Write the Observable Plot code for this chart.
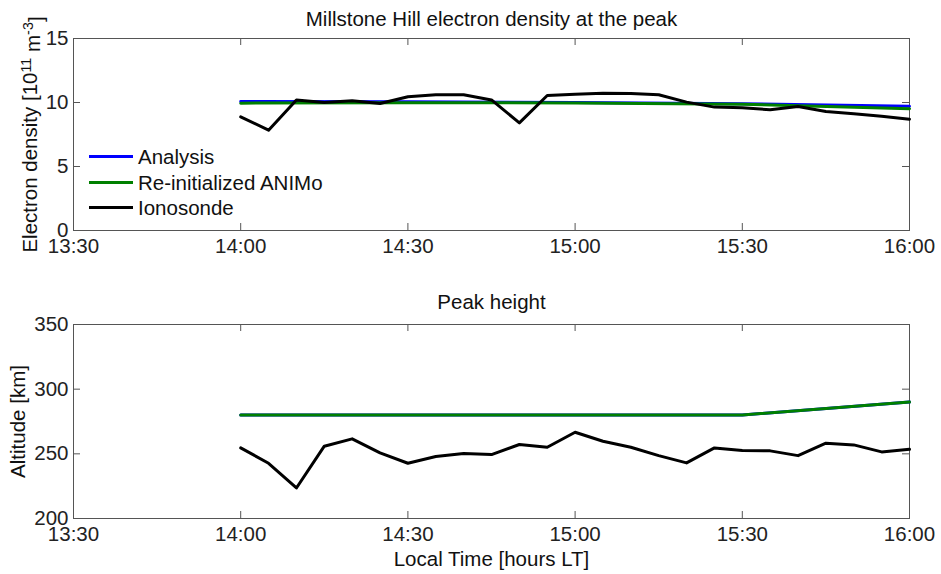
<!DOCTYPE html>
<html>
<head>
<meta charset="utf-8">
<script src="https://cdn.jsdelivr.net/npm/d3@7"></script>
<script src="https://cdn.jsdelivr.net/npm/@observablehq/plot@0.6"></script>
<style>
  html, body { margin: 0; padding: 0; background: #fff; }
  #wrap { position: relative; width: 941px; height: 574px; font-family: "Liberation Sans", Arial, sans-serif; }
  #wrap svg { position: absolute; left: 0; }
  #legend { position: absolute; left: 89px; top: 144px; font-size: 20.5px; color: #111; }
  #legend .row { height: 25.5px; line-height: 25.5px; white-space: nowrap; display: flex; align-items: center; }
  #legend .sw { display: inline-block; width: 44px; height: 3px; margin-right: 5px; }
</style>
</head>
<body>
<div id="wrap"></div>
<script>
// ---- data ----
const tickLabels = ["13:30", "14:00", "14:30", "15:00", "15:30", "16:00"];
const modelTimes = ["14:00", "14:30", "15:00", "15:30", "16:00"];
const ionoTimes = ["14:00","14:05","14:10","14:15","14:20","14:25","14:30","14:35","14:40","14:45","14:50","14:55",
                   "15:00","15:05","15:10","15:15","15:20","15:25","15:30","15:35","15:40","15:45","15:50","15:55","16:00"];

const analysisDensity = [10.08, 10.05, 10.0, 9.9, 9.7];
const animoDensity    = [9.95, 9.98, 9.97, 9.87, 9.52];
const ionoDensity = [8.88, 7.84, 10.2, 10.0, 10.13, 9.92, 10.45, 10.6, 10.6, 10.2, 8.41, 10.55,
                     10.65, 10.73, 10.7, 10.6, 10.03, 9.64, 9.59, 9.43, 9.69, 9.3, 9.12, 8.93, 8.7];

const analysisHeight = [280, 280, 280, 280, 290];
const animoHeight    = [280, 280, 280, 280, 290];
const ionoHeight = [254.6, 242.7, 223.6, 255.9, 261.6, 250.7, 242.7, 247.9, 250.2, 249.4, 257.2, 255.1,
                    266.7, 259.7, 255.1, 248.6, 243.0, 254.6, 252.5, 252.3, 248.6, 258.2, 256.9, 251.5, 253.5];

const densityTicks = [0, 5, 10, 15];
const heightTicks = [200, 250, 300, 350];

const seriesNames = ["Analysis", "Re-initialized ANIMo", "Ionosonde"];
const seriesColors = ["#0000ff", "#008000", "#000000"];

// ---- helpers ----
const toMin = s => { const [h, m] = s.split(":").map(Number); return h * 60 + m; };
const tickVals = tickLabels.map(toMin);
const fmt = d => tickLabels[tickVals.indexOf(d)];
const rows = (times, vals) => times.map((t, i) => ({x: toMin(t), y: vals[i]}));

const FONT = "Liberation Sans, Arial, sans-serif";
const W = 941, H = 287;

function panel({yTicks, series, title, titleDy, ylabel, ylabelDx, marginTop, marginBottom, xlabel}) {
  const ph = H - marginTop - marginBottom;
  const pw = W - 73 - 32;
  const marks = [
    Plot.axisX(tickVals, {tickSize: 0, tickPadding: 8, tickFormat: fmt, label: null, fill: "#222"}),
    Plot.axisY(yTicks, {tickSize: 0, tickPadding: 5, label: null, fill: "#222"}),
    Plot.tickX(tickVals, {x: d => d, insetTop: ph - 7, stroke: "#555"}),
    Plot.tickX(tickVals, {x: d => d, insetBottom: ph - 7, stroke: "#555"}),
    Plot.tickY(yTicks, {y: d => d, insetLeft: pw - 7, stroke: "#555"}),
    Plot.tickY(yTicks, {y: d => d, insetRight: pw - 7, stroke: "#555"}),
    Plot.frame({stroke: "#555"}),
    ...series.map(s => Plot.line(s.data, {x: "x", y: "y", stroke: s.color, strokeWidth: 3, strokeLinejoin: "round"})),
    Plot.text([title], {frameAnchor: "top", dy: titleDy, lineAnchor: "bottom", textAnchor: "middle", fontSize: 20.5, fill: "#111"}),
    Plot.text([ylabel], {frameAnchor: "left", rotate: -90, dx: ylabelDx, lineAnchor: "bottom", textAnchor: "middle", fontSize: 20.5, fill: "#111"})
  ];
  if (xlabel) marks.push(Plot.text([xlabel], {frameAnchor: "bottom", dy: 47, lineAnchor: "bottom", textAnchor: "middle", fontSize: 20.5, fill: "#111"}));
  return Plot.plot({
    width: W, height: H,
    marginLeft: 73, marginRight: 32, marginTop, marginBottom,
    style: {fontFamily: FONT, fontSize: "20.5px", background: "transparent", overflow: "visible", color: "#222"},
    x: {type: "linear", domain: [tickVals[0], tickVals[tickVals.length - 1]]},
    y: {type: "linear", domain: [yTicks[0], yTicks[yTicks.length - 1]]},
    marks
  });
}

const wrap = document.getElementById("wrap");

const topChart = panel({
  yTicks: densityTicks,
  series: [
    {data: rows(modelTimes, analysisDensity), color: seriesColors[0]},
    {data: rows(modelTimes, animoDensity), color: seriesColors[1]},
    {data: rows(ionoTimes, ionoDensity), color: seriesColors[2]}
  ],
  title: "Millstone Hill electron density at the peak", titleDy: -13,
  ylabel: "Electron density [10^11 m^-3]", ylabelDx: -36.5,
  marginTop: 38, marginBottom: 57
});
topChart.style.top = "0px";
wrap.appendChild(topChart);

const bottomChart = panel({
  yTicks: heightTicks,
  series: [
    {data: rows(modelTimes, analysisHeight), color: seriesColors[0]},
    {data: rows(modelTimes, animoHeight), color: seriesColors[1]},
    {data: rows(ionoTimes, ionoHeight), color: seriesColors[2]}
  ],
  title: "Peak height", titleDy: -16,
  ylabel: "Altitude [km]", ylabelDx: -49,
  marginTop: 37, marginBottom: 56,
  xlabel: "Local Time [hours LT]"
});
bottomChart.style.top = "287px";
wrap.appendChild(bottomChart);

// superscripts in the density label
d3.select(topChart).selectAll("text").filter(function() { return this.textContent === "Electron density [10^11 m^-3]"; })
  .each(function() {
    const t = d3.select(this);
    t.text(null);
    t.append("tspan").text("Electron density [10");
    t.append("tspan").attr("dy", "-0.45em").attr("font-size", "0.7em").text("11");
    t.append("tspan").attr("dy", "0.45em").text(" m");
    t.append("tspan").attr("dy", "-0.45em").attr("font-size", "0.7em").text("-3");
    t.append("tspan").attr("dy", "0.45em").text("]");
  });

// legend
const legend = document.createElement("div");
legend.id = "legend";
seriesNames.forEach((n, i) => {
  const r = document.createElement("div");
  r.className = "row";
  const sw = document.createElement("span");
  sw.className = "sw";
  sw.style.background = seriesColors[i];
  r.appendChild(sw);
  r.appendChild(document.createTextNode(n));
  legend.appendChild(r);
});
wrap.appendChild(legend);
</script>
</body>
</html>
